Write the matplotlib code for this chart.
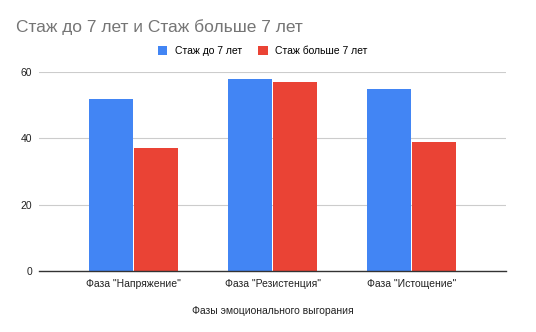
import numpy as np
import matplotlib
matplotlib.use("Agg")
import matplotlib.pyplot as plt

plt.rcParams['font.family'] = ['Liberation Sans', 'DejaVu Sans']

categories = ['Фаза "Напряжение"', 'Фаза "Резистенция"', 'Фаза "Истощение"']
under_7 = [52, 58, 55]
over_7 = [37, 57, 39]
series_names = ['Стаж до 7 лет', 'Стаж больше 7 лет']
yticks = [0, 20, 40, 60]

blue = '#4285F4'
red = '#EA4335'

fig = plt.figure(figsize=(5.36, 3.32), dpi=100)
ax = fig.add_axes([0.073, 0.184, 0.871, 0.599])

x = np.arange(len(categories))
w = 0.318
ax.bar(x - w / 2 - 0.005, under_7, width=w, color=blue, label=series_names[0], zorder=3)
ax.bar(x + w / 2 + 0.005, over_7, width=w, color=red, label=series_names[1], zorder=3)

ax.set_xlim(-0.68, 2.68)
ax.set_ylim(0, 60)
ax.set_yticks(yticks)
ax.set_xticks(x)
ax.set_xticklabels(categories, fontsize=7.5, color='#222222')
ax.tick_params(axis='y', labelsize=7.5, labelcolor='#222222', length=0, pad=5)
ax.tick_params(axis='x', length=0, pad=6)
ax.grid(axis='y', color='#cccccc', linewidth=0.8, zorder=0)
for s in ['top', 'right', 'left']:
    ax.spines[s].set_visible(False)
ax.spines['bottom'].set_color('#333333')
ax.spines['bottom'].set_linewidth(1.0)
ax.spines['bottom'].set_zorder(4)

ax.set_xlabel('Фазы эмоционального выгорания', fontsize=7.5, color='#222222', labelpad=12)

fig.text(0.03, 0.918, 'Стаж до 7 лет и Стаж больше 7 лет', fontsize=12.5,
         color='#757575', va='center', ha='left')

fig.legend(loc='center', bbox_to_anchor=(0.49, 0.846), ncol=2, frameon=False,
           fontsize=7.5, handlelength=0.9, handleheight=0.9, columnspacing=1.6,
           handletextpad=0.7)

fig.savefig('out.png', dpi=100)
